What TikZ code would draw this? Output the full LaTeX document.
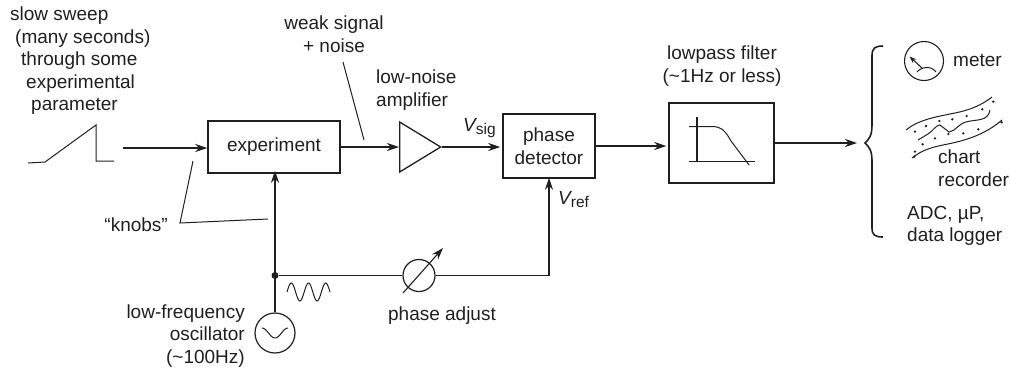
\documentclass[tikz,border=0pt]{standalone}
\usepackage{fontspec}
\setmainfont{Liberation Sans}
\usetikzlibrary{arrows.meta,shapes.geometric}
\newcommand{\subtxt}[1]{\hspace{-1.5pt}\raisebox{-3.5pt}{\fontsize{15.5}{16}\selectfont #1}}
\tikzset{
  ink/.style={draw=black!88},
  wire/.style={ink,line width=1.1pt},
  arr/.style={wire,-{Stealth[length=12pt,width=8pt]}},
  blockbox/.style={ink,line width=1.5pt,rectangle,inner sep=0pt,align=center},
  lbl/.style={inner sep=0pt,text=black!88,font=\fontsize{19}{22.5}\selectfont},
  thin ink/.style={ink,line width=1pt}
}
\begin{document}
\begin{tikzpicture}[x=1pt,y=-1pt]
\useasboundingbox (0,0) rectangle (1010,368);
% blocks
\node[blockbox,minimum width=132pt,minimum height=52pt,lbl] (exp) at (274,147) {experiment};
\node[blockbox,minimum width=92pt,minimum height=64pt,lbl] (det) at (549,146) {phase\\detector};
\node[blockbox,minimum width=105pt,minimum height=80pt] (filt) at (721.5,143) {};
\node[ink,line width=1.3pt,isosceles triangle,isosceles triangle stretches,minimum width=50pt,minimum height=41pt,inner sep=0pt,anchor=lower side] (amp) at (399,147) {};
\node[ink,line width=1.2pt,circle,minimum size=40pt,inner sep=0pt] (osc) at (275,333) {};
\node[ink,line width=1.2pt,circle,minimum size=32pt,inner sep=0pt] (ph) at (419,275.5) {};
\node[circle,fill=black!88,minimum size=7pt,inner sep=0pt] (jn) at (275,275.5) {};
% ramp
\draw[thin ink] (28,163) -- (45,162) -- (96,125) -- (96,161) -- (114,161);
\coordinate (sweepout) at (123,148);
\draw[arr] (sweepout) -- (sweepout -| exp.west);
% main signal path
\draw[arr] (exp.east) -- (amp.lower side);
\draw[arr] (amp.apex) -- ([xshift=-2pt]amp.apex -| det.west);
\draw[arr] (det.east) -- ([xshift=-2pt]det.east -| filt.west);
\coordinate (fout) at (filt.east);
\coordinate (bracetip) at (857,143);
\draw[arr] (fout) -- (bracetip);
% oscillator branch
\draw[arr,line width=1.3pt] (osc.north) -- ([yshift=3pt]exp.south -| osc.north);
\draw[wire] (jn) -- (ph.west);
\draw[arr,line width=1.3pt] (ph.east) -| ([yshift=1pt]det.south);
\coordinate (nda) at (403,293); \coordinate (ndb) at (443,248);
\draw[arr] (nda) -- (ndb);
% sine in oscillator
\draw[thin ink,smooth] plot[domain=0:1,samples=30] ({262+26*\x},{333+5*cos(360*\x)*(-1)});
% wave under line
\draw[thin ink] plot[smooth,domain=0:1,samples=50] ({287+43*\x},{292+9*sin(360*2.5*\x)*(-1)});
% leaders
\coordinate (ka) at (193,161); \coordinate (kb) at (180,223); \coordinate (kc) at (268,219);
\draw[thin ink] (ka) -- (kb) -- (kc);
\coordinate (wa) at (343,62); \coordinate (wb) at (364,140);
\draw[thin ink] (wa) -- (wb);
% filter symbol
\draw[thin ink,line width=1.2pt] (697,117) -- (697,161);
\draw[thin ink] (689,161) -- (755,161);
\draw[thin ink] (689,126.5) -- (712,126.5) .. controls (722,126.5) and (726,132) .. (731,141) -- (749,165);
% brace
\draw[ink,line width=1.6pt] (883,46) .. controls (875,46) and (872,48) .. (872,56) -- (872,125)
  .. controls (872,136) and (869,139) .. (865,143) .. controls (869,147) and (872,150) .. (872,161)
  -- (872,228) .. controls (872,235) and (875,237) .. (883,237);
% meter
\node[ink,line width=1.1pt,circle,minimum size=39pt,inner sep=0pt] (meter) at (924,61) {};
\coordinate (mna) at (922,68); \coordinate (mnb) at (909.5,56.5);
\draw[wire,-{Stealth[length=7pt,width=5pt]}] (mna) -- (mnb);
\draw[thin ink] (917,72) .. controls (921,67) and (931,65) .. (936,72);
% chart recorder
\draw[thin ink] (906,130) .. controls (918,120) and (935,117) .. (955,113) .. controls (970,110) and (982,105) .. (992,97);
\draw[thin ink] (912,158) .. controls (922,150) and (932,147) .. (948,144) .. controls (972,139) and (988,132) .. (1002,120);
\draw[thin ink] (918,140) -- (928,134) .. controls (933,131) and (936,125) .. (940,125) -- (949,132)
  .. controls (956,131) and (958,124) .. (966,122) .. controls (976,119) and (988,122) .. (990,110);
\foreach \px/\py in {825/275,858/258,898/243,937/238,980/228,1027/208,1060/185,1085/247,1015/268,970/280,925/282,885/295,848/313,825/335,823/350}
  \fill[black!88] ({640+\px/3},{40+\py/3}) circle (1.3pt);
% labels
\node[lbl,align=left,anchor=north west] (t1) at (10,7) {slow sweep\\\hspace*{5pt}(many seconds)\\\hspace*{11pt}through some\\\hspace*{16pt}experimental\\\hspace*{21pt}parameter};
\node[lbl,align=center] (t2) at (334,34) {weak signal\\+ noise};
\node[lbl,align=left,anchor=west] (t3) at (376,90) {low-noise\\amplifier};
\node[lbl,anchor=base west] (t4) at (463,131) {\textit{V}\subtxt{sig}};
\node[lbl,anchor=base west] (t5) at (558,204) {\textit{V}\subtxt{ref}};
\node[lbl,align=center] (t6) at (722,66) {lowpass filter\\(\textasciitilde 1Hz or less)};
\node[lbl,anchor=west] (t7) at (953,60) {meter};
\node[lbl,align=left,anchor=west] (t8) at (938,168) {chart\\recorder};
\node[lbl,align=left,anchor=west] (t9) at (907,226) {ADC, µP,\\data logger};
\node[lbl,anchor=east] (t10) at (168,225) {“knobs”};
\node[lbl,align=right,anchor=east] (t11) at (245,336) {low-frequency\\oscillator\\(\textasciitilde 100Hz)};
\node[lbl] (t12) at (442,316) {phase adjust};
\end{tikzpicture}
\end{document}
